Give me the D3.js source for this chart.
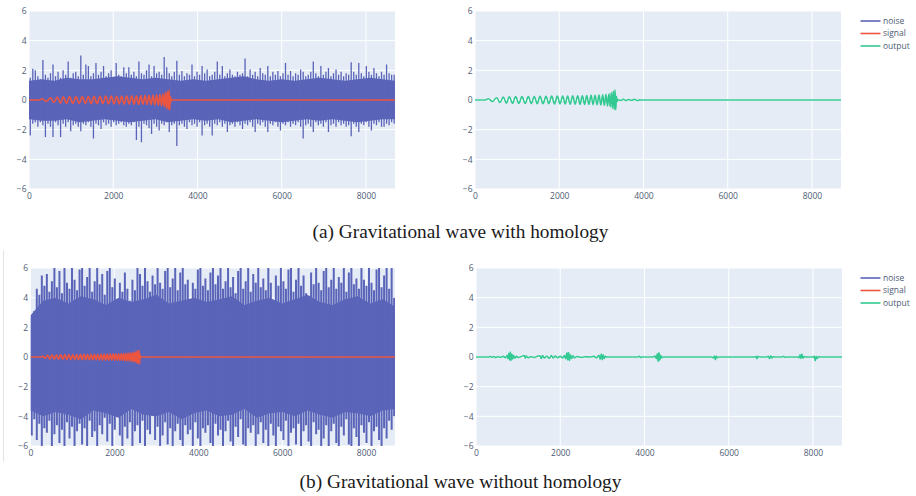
<!DOCTYPE html>
<html>
<head>
<meta charset="utf-8">
<script src="https://cdn.jsdelivr.net/npm/d3@7"></script>
<style>
  html, body { margin: 0; padding: 0; background: #fff; }
  svg { display: block; }
</style>
</head>
<body>
<svg id="chart" width="916" height="496"></svg>
<script>
// --- data ------------------------------------------------------------
const xTicks = [0, 2000, 4000, 6000, 8000];
const yTicks = [-6, -4, -2, 0, 2, 4, 6];
const xMax = 8690;
const binStep = 60;   // samples per noise spike bin
const coreStep = 300; // samples per core-band point

// (a) noise: spike extremes per bin
const noiseAHi = [
  1.5, 2.1, 2.0, 1.6, 1.4, 2.7, 1.7, 1.5, 1.8, 2.4,
  1.6, 1.9, 1.5, 2.0, 1.7, 2.6, 1.5, 1.8, 1.9, 1.6,
  3.0, 1.7, 2.4, 2.3, 1.6, 1.8, 2.5, 1.7, 1.9, 2.3,
  1.6, 1.8, 2.0, 1.5, 2.5, 1.7, 1.6, 2.2, 1.8, 2.2,
  1.7, 1.9, 1.6, 2.6, 1.8, 1.7, 2.0, 2.4, 1.6, 2.3,
  1.8, 1.9, 1.7, 2.9, 2.2, 1.8, 1.6, 1.9, 2.65, 1.7,
  1.95, 1.6, 1.8, 1.7, 2.4, 1.6, 1.9, 1.7, 2.3, 1.8,
  2.05, 1.6, 1.7, 1.9, 2.6, 1.7, 2.3, 1.6, 1.8, 2.05,
  1.7, 1.6, 1.9, 1.7, 1.8, 2.8, 1.6, 2.05, 1.7, 1.9,
  1.6, 2.15, 1.8, 1.7, 2.3, 1.6, 1.9, 1.7, 1.95, 1.6,
  1.8, 2.5, 1.7, 1.95, 1.6, 1.8, 1.7, 2.05, 1.9, 1.6,
  1.7, 1.9, 2.6, 1.8, 1.6, 2.3, 1.7, 1.9, 2.15, 1.6,
  1.8, 2.05, 1.7, 1.9, 1.6, 1.8, 1.7, 2.55, 1.9, 1.7,
  2.5, 1.8, 1.6, 2.3, 1.9, 1.7, 2.15, 1.8, 1.6, 1.9,
  1.7, 2.4, 1.8, 1.7, 1.7
];
const noiseALo = [
  -2.4, -1.6, -1.5, -1.8, -1.5, -1.7, -2.5, -1.6, -1.8, -2.5,
  -1.5, -1.7, -2.5, -1.6, -1.8, -1.5, -2.1, -1.7, -1.6, -1.8,
  -2.1, -1.6, -1.7, -1.5, -1.8, -2.6, -1.6, -1.7, -1.95, -1.5,
  -1.7, -1.6, -1.8, -1.5, -1.7, -1.6, -1.5, -1.7, -1.8, -1.6,
  -1.7, -1.5, -2.7, -1.8, -2.85, -1.6, -1.7, -1.9, -2.3, -1.6,
  -1.8, -2.05, -1.6, -1.7, -1.5, -2.15, -1.7, -1.6, -3.1, -1.7,
  -1.6, -1.8, -1.95, -1.5, -1.7, -1.6, -1.8, -1.5, -2.4, -1.7,
  -1.6, -1.8, -2.4, -1.6, -1.7, -1.5, -1.8, -1.6, -2.15, -1.7,
  -1.6, -1.8, -1.5, -1.7, -1.95, -1.6, -1.7, -1.5, -1.8, -2.15,
  -1.6, -1.7, -1.5, -1.8, -2.15, -1.6, -1.7, -1.5, -1.8, -2.05,
  -1.6, -1.7, -1.5, -1.8, -1.6, -1.7, -1.5, -1.8, -2.6, -1.7,
  -1.6, -1.8, -2.15, -1.5, -1.7, -1.6, -1.8, -1.5, -2.15, -1.7,
  -1.6, -1.8, -1.5, -1.7, -1.6, -1.8, -1.7, -2.45, -1.6, -1.8,
  -2.15, -1.6, -1.7, -1.5, -1.8, -2.05, -1.6, -1.7, -1.5, -1.8,
  -1.8, -1.6, -1.7, -1.5, -1.6
];
// (a) noise: edges of the solid core band
const noiseACoreHi = [
  1.3, 1.4, 1.3, 1.5, 1.4, 1.4, 1.5, 1.6, 1.5, 1.4,
  1.5, 1.4, 1.3, 1.4, 1.3, 1.4, 1.5, 1.6, 1.4, 1.3,
  1.4, 1.3, 1.4, 1.5, 1.4, 1.3, 1.4, 1.5, 1.4, 1.3
];
const noiseACoreLo = [
  -1.3, -1.4, -1.4, -1.3, -1.5, -1.4, -1.3, -1.4, -1.5, -1.4,
  -1.3, -1.5, -1.4, -1.3, -1.4, -1.3, -1.5, -1.4, -1.3, -1.4,
  -1.5, -1.4, -1.3, -1.4, -1.3, -1.4, -1.5, -1.4, -1.3, -1.3
];

// (b) noise: spike extremes per bin (beyond ±6 is clipped)
const noiseBHi = [
  2.6, 3.1, 4.6, 4.2, 5.5, 4.8, 5.6, 4.4, 5.1, 6.3,
  4.7, 5.8, 4.3, 6.5, 5.0, 4.6, 6.4, 5.2, 4.5, 5.9,
  6.5, 4.8, 5.4, 6.3, 4.4, 5.1, 6.5, 4.9, 5.6, 4.2,
  5.8, 6.4, 4.7, 5.3, 3.9, 5.0, 4.4, 5.7, 4.6, 3.8,
  5.2, 4.5, 6.2, 5.6, 4.8, 6.5, 5.1, 4.4, 5.5, 4.9,
  6.3, 5.0, 4.6, 5.8, 6.5, 4.7, 5.3, 6.1, 4.5, 5.7,
  6.4, 4.9, 5.2, 2.6, 5.0, 4.6, 5.9, 6.5, 4.8, 5.3,
  4.5, 5.7, 6.2, 4.9, 5.5, 6.5, 4.6, 5.1, 6.3, 4.7,
  5.4, 4.3, 5.8, 6.5, 4.6, 5.1, 6.0, 4.4, 5.6, 5.0,
  6.4, 4.7, 5.3, 4.5, 6.2, 5.0, 3.7, 5.5, 4.8, 6.3,
  5.1, 4.6, 5.9, 6.5, 4.4, 5.2, 6.1, 4.8, 5.5, 4.3,
  2.4, 5.7, 4.9, 6.4, 5.0, 4.5, 5.8, 6.3, 4.7, 5.2,
  6.5, 4.6, 5.4, 5.0, 6.2, 4.4, 5.7, 6.5, 4.9, 5.3,
  4.6, 6.1, 5.2, 4.8, 6.5, 5.0, 4.5, 5.9, 6.4, 4.7,
  5.5, 6.2, 4.6, 6.5, 4.0
];
const noiseBLo = [
  -5.3, -4.2, -5.6, -4.5, -6.3, -4.8, -5.1, -4.3, -6.0, -5.2,
  -4.6, -5.8, -4.9, -6.4, -4.4, -5.5, -4.7, -6.2, -5.0, -4.5,
  -5.9, -4.8, -6.5, -4.3, -5.4, -5.0, -6.3, -4.6, -5.2, -4.1,
  -5.7, -4.5, -6.0, -4.9, -3.8, -5.3, -6.4, -4.7, -5.5, -4.4,
  -6.2, -5.0, -4.6, -5.8, -4.3, -6.5, -4.9, -5.2, -4.0, -5.6,
  -4.7, -6.1, -5.3, -4.4, -5.9, -4.8, -6.4, -5.0, -4.5, -5.6,
  -6.3, -4.6, -5.2, -4.9, -6.0, -4.4, -5.5, -6.5, -4.8, -5.1,
  -4.6, -5.8, -6.2, -4.5, -5.3, -4.9, -6.4, -5.0, -4.3, -5.7,
  -6.0, -4.7, -5.4, -4.2, -5.9, -6.3, -4.8, -5.1, -4.6, -6.5,
  -5.2, -4.4, -5.8, -4.9, -6.1, -4.5, -5.3, -6.4, -4.7, -5.0,
  -5.6, -4.3, -6.2, -5.1, -4.8, -5.9, -4.5, -6.5, -5.0, -4.6,
  -5.7, -6.3, -4.4, -5.2, -4.9, -6.0, -5.5, -4.6, -6.4, -5.0,
  -4.5, -5.8, -6.1, -4.7, -5.3, -4.2, -5.9, -6.5, -4.8, -5.4,
  -6.2, -4.6, -5.1, -5.8, -4.4, -6.3, -5.0, -4.7, -5.6, -6.0,
  -4.8, -5.5, -4.3, -4.9, -4.0
];
// (b) noise: edges of the solid core band
const noiseBCoreHi = [
  2.8, 3.8, 4.0, 3.6, 4.1, 3.9, 3.5, 4.0, 3.7, 3.9,
  4.2, 3.6, 3.8, 4.0, 3.7, 3.9, 4.1, 3.5, 3.8, 4.0,
  3.6, 3.9, 4.2, 3.7, 3.5, 3.9, 4.1, 3.6, 3.9, 3.4
];
const noiseBCoreLo = [
  -3.6, -4.0, -3.7, -3.9, -4.2, -3.6, -3.8, -4.1, -3.5, -3.9,
  -4.0, -3.7, -4.2, -3.8, -3.6, -4.0, -3.9, -3.5, -4.1, -3.8,
  -3.7, -4.0, -3.6, -3.9, -4.1, -3.7, -3.8, -4.0, -3.6, -3.5
];

// (a) chirp: [sample, value] at each extremum
const signalA = [
  [0, 0], [250, 0], [316, 0.08], [415, -0.1], [514, 0.15], [593, -0.17],
  [672, 0.2], [744, -0.21], [815, 0.22], [890, -0.22], [965, 0.23], [1040, -0.23],
  [1116, 0.23], [1191, -0.24], [1266, 0.24], [1337, -0.24], [1408, 0.24], [1476, -0.25],
  [1544, 0.25], [1615, -0.25], [1686, 0.25], [1753, -0.25], [1820, 0.26], [1888, -0.26],
  [1955, 0.26], [2018, -0.26], [2082, 0.27], [2141, -0.27], [2200, 0.27], [2260, -0.28],
  [2319, 0.28], [2378, -0.28], [2438, 0.29], [2494, -0.29], [2550, 0.29], [2602, -0.3],
  [2653, 0.3], [2705, -0.3], [2756, 0.31], [2803, -0.31], [2850, 0.32], [2898, -0.32],
  [2945, 0.33], [2988, -0.34], [3031, 0.35], [3071, -0.36], [3111, 0.38], [3147, -0.4],
  [3182, 0.42], [3210, -0.45], [3238, 0.5], [3262, -0.55], [3285, 0.6], [3305, -0.64],
  [3325, 0.68], [3342, -0.66], [3358, 0.25], [3372, -0.1], [3386, 0.03], [3400, 0],
  [8690, 0]
];
// (a) output: same chirp plus a faint tail after the merger
const outputTailA = [
  [3400, 0.02], [3460, -0.03], [3520, 0.04], [3580, -0.03], [3650, 0.03],
  [3720, -0.02], [3790, 0.04], [3850, -0.03], [3910, 0.01], [3960, 0], [8690, 0]
];

// (b) chirp
const signalB = [
  [0, 0], [250, 0],
  [290, 0.06], [347, -0.09], [404, 0.12], [458, -0.13], [513, 0.14], [565, -0.15],
  [617, 0.15], [668, -0.16], [719, 0.16], [768, -0.16], [818, 0.16], [866, -0.17],
  [914, 0.17], [961, -0.17], [1008, 0.17], [1054, -0.17], [1100, 0.17], [1144, -0.18],
  [1189, 0.18], [1232, -0.18], [1276, 0.18], [1318, -0.18], [1361, 0.18], [1402, -0.19],
  [1444, 0.19], [1484, -0.19], [1525, 0.19], [1564, -0.19], [1604, 0.19], [1642, -0.2],
  [1681, 0.2], [1718, -0.2], [1756, 0.2], [1792, -0.2], [1829, 0.2], [1864, -0.21],
  [1900, 0.21], [1934, -0.21], [1969, 0.21], [2002, -0.22], [2036, 0.22], [2068, -0.22],
  [2100, 0.22], [2131, -0.23], [2162, 0.23], [2191, -0.24], [2221, 0.24], [2249, -0.25],
  [2277, 0.25], [2303, -0.26], [2330, 0.26], [2355, -0.27], [2380, 0.27], [2403, -0.28],
  [2426, 0.29], [2447, -0.3], [2468, 0.31], [2486, -0.33], [2505, 0.34], [2521, -0.36],
  [2537, 0.38], [2550, -0.4], [2564, 0.42], [2575, -0.44], [2587, 0.46], [2600, -0.45],
  [2612, 0.15], [2624, -0.05], [2636, 0], [8690, 0]
];

// (b) output: scattered small bursts
const outputB = [
  [0, 0], [300, 0], [340, 0.03], [380, -0.02], [420, 0.03], [470, -0.03], [520, 0.02],
  [580, -0.02], [640, 0.04], [700, -0.04], [740, 0.1], [760, -0.12], [780, 0.25],
  [800, -0.2], [815, 0.34], [830, -0.23], [850, 0.2], [870, -0.15], [890, 0.12],
  [920, -0.08], [960, 0.05], [1000, -0.03], [1080, 0.03], [1150, 0.1], [1170, -0.08],
  [1190, 0.06], [1230, -0.04], [1300, 0.02], [1380, -0.03], [1450, 0.04], [1520, 0.08],
  [1550, -0.1], [1580, 0.1], [1620, -0.06], [1680, 0.05], [1740, -0.08], [1790, 0.1],
  [1830, -0.07], [1880, 0.06], [1940, -0.04], [2000, 0.04], [2060, -0.05], [2100, 0.1],
  [2130, -0.12], [2160, 0.28], [2180, -0.2], [2200, 0.3], [2220, -0.23], [2240, 0.15],
  [2270, -0.1], [2300, 0.08], [2340, -0.05], [2400, 0.03], [2500, -0.02], [2600, 0.02],
  [2700, 0], [2800, 0.04], [2860, -0.05], [2920, 0.12], [2950, -0.15], [2975, 0.2],
  [3000, -0.18], [3020, 0.15], [3045, -0.1], [3070, 0.05], [3100, 0], [3850, 0],
  [3880, 0.04], [3910, -0.03], [3940, 0], [4200, 0], [4250, 0.06], [4280, -0.1],
  [4305, 0.22], [4325, -0.3], [4345, 0.3], [4365, -0.22], [4385, 0.12], [4410, -0.05],
  [4440, 0], [5600, 0], [5640, -0.06], [5665, 0.07], [5685, -0.18], [5705, 0.05],
  [5730, -0.04], [5760, 0], [6620, 0], [6650, 0.03], [6670, -0.12], [6690, 0.04],
  [6720, 0], [6900, 0], [6940, 0.05], [6970, -0.1], [7000, 0.08], [7030, -0.06],
  [7060, 0.02], [7100, 0], [7280, 0], [7300, 0.05], [7330, -0.02], [7360, 0],
  [7640, 0], [7670, -0.05], [7695, 0.15], [7715, -0.1], [7735, 0.2], [7760, -0.08],
  [7790, 0.03], [7820, 0], [8000, 0], [8030, 0.05], [8055, -0.25], [8075, 0.04],
  [8100, -0.1], [8130, 0.02], [8160, 0], [8690, 0]
];

const legendNames = ["noise", "signal", "output"];
const captions = ["(a) Gravitational wave with homology", "(b) Gravitational wave without homology"];

// --- styling -----------------------------------------------------------
const colors = { noise: "#5a64b8", signal: "#ec553f", output: "#33c992" };
const bg = "#e5ecf6";
const tickColor = "#4d5b74";
const tickFont = "'Open Sans', 'DejaVu Sans', sans-serif";

const outputA = signalA.filter((d) => d[0] < 3400).concat(outputTailA);

const panels = [
  { x0: 29, y0: 11, w: 366, h: 178,
    noise: { hi: noiseAHi, lo: noiseALo, coreHi: noiseACoreHi, coreLo: noiseACoreLo, width: 1.3 },
    lines: [{ pts: signalA, color: colors.signal }] },
  { x0: 475, y0: 11, w: 366, h: 178, legendY: 21,
    lines: [{ pts: outputA, color: colors.output }] },
  { x0: 30.5, y0: 268, w: 364.5, h: 178,
    noise: { hi: noiseBHi, lo: noiseBLo, coreHi: noiseBCoreHi, coreLo: noiseBCoreLo, width: 2 },
    lines: [{ pts: signalB, color: colors.signal }] },
  { x0: 476, y0: 268, w: 366, h: 178, legendY: 278,
    lines: [{ pts: outputB, color: colors.output }] },
];

const svg = d3.select("#chart");

// faint page edge seen left of the lower row
svg.append("line")
  .attr("x1", 3.5).attr("x2", 3.5).attr("y1", 250).attr("y2", 462)
  .attr("stroke", "#e3e3e3").attr("stroke-width", 1);

panels.forEach((p, k) => {
  const x = d3.scaleLinear().domain([0, xMax]).range([0, p.w]);
  const y = d3.scaleLinear().domain([-6, 6]).range([p.h, 0]);
  const g = svg.append("g").attr("transform", `translate(${p.x0},${p.y0})`);

  g.append("rect").attr("width", p.w).attr("height", p.h).attr("fill", bg);

  // grid
  g.selectAll(".vg").data(xTicks).join("line")
    .attr("x1", (d) => x(d)).attr("x2", (d) => x(d))
    .attr("y1", 0).attr("y2", p.h)
    .attr("stroke", "#fff").attr("stroke-width", 1);
  g.selectAll(".hg").data(yTicks).join("line")
    .attr("x1", 0).attr("x2", p.w)
    .attr("y1", (d) => y(d)).attr("y2", (d) => y(d))
    .attr("stroke", "#fff").attr("stroke-width", 1);
  g.append("line").attr("x1", 0).attr("x2", p.w)
    .attr("y1", y(0)).attr("y2", y(0)).attr("stroke", "#fff").attr("stroke-width", 2);

  const clipId = "clip" + k;
  g.append("clipPath").attr("id", clipId)
    .append("rect").attr("width", p.w).attr("height", p.h);
  const plot = g.append("g").attr("clip-path", `url(#${clipId})`);

  // noise: solid core band + one vertical spike per bin
  if (p.noise) {
    const n = p.noise;
    const core = d3.area()
      .x((d, i) => x(Math.min(i * coreStep, xMax)))
      .y0((d, i) => y(n.coreLo[i]))
      .y1((d) => y(d));
    plot.append("path").attr("d", core(n.coreHi))
      .attr("fill", colors.noise);
    const spikes = d3.path();
    n.hi.forEach((h, i) => {
      const sx = x(i * binStep + binStep / 2);
      spikes.moveTo(sx, y(h));
      spikes.lineTo(sx, y(n.lo[i]));
    });
    plot.append("path").attr("d", spikes.toString())
      .attr("fill", "none").attr("stroke", colors.noise).attr("stroke-width", n.width);
  }

  p.lines.forEach((t) => {
    const line = d3.line().x((d) => x(d[0])).y((d) => y(d[1])).curve(d3.curveMonotoneX);
    plot.append("path").attr("d", line(t.pts))
      .attr("fill", "none").attr("stroke", t.color)
      .attr("stroke-width", 1.6).attr("stroke-linejoin", "round");
  });

  // axes
  const gx = g.append("g").attr("transform", `translate(0,${p.h})`)
    .call(d3.axisBottom(x).tickValues(xTicks).tickSize(0).tickPadding(3.5).tickFormat(d3.format("d")));
  const gy = g.append("g")
    .call(d3.axisLeft(y).tickValues(yTicks).tickSize(0).tickPadding(2.5).tickFormat(d3.format("d")));
  [gx, gy].forEach((a) => {
    a.select(".domain").remove();
    a.selectAll("text").attr("font-family", tickFont).attr("font-size", 8.5).attr("fill", tickColor);
  });

  // legend
  if (p.legendY !== undefined) {
    const lg = svg.append("g").attr("transform", `translate(860.5,${p.legendY})`);
    legendNames.forEach((name, i) => {
      const row = lg.append("g").attr("transform", `translate(0,${i * 12.5})`);
      row.append("line").attr("x1", 0).attr("x2", 20)
        .attr("stroke", colors[name]).attr("stroke-width", 1.6);
      row.append("text").attr("x", 22.5).attr("dy", "0.35em")
        .attr("font-family", tickFont).attr("font-size", 8.5).attr("fill", tickColor)
        .text(name);
    });
  }
});

// captions, sized to the widths measured in the picture
const capPos = [{ y: 238, w: 296 }, { y: 488, w: 322 }];
captions.forEach((c, i) => {
  const t = svg.append("text")
    .attr("x", 460.5).attr("y", capPos[i].y).attr("text-anchor", "middle")
    .attr("font-family", "'Liberation Serif', 'DejaVu Serif', serif")
    .attr("font-size", 15).attr("fill", "#1a1a1a").text(c);
  const len = t.node().getComputedTextLength();
  t.attr("font-size", 15 * capPos[i].w / len);
});
</script>
</body>
</html>
